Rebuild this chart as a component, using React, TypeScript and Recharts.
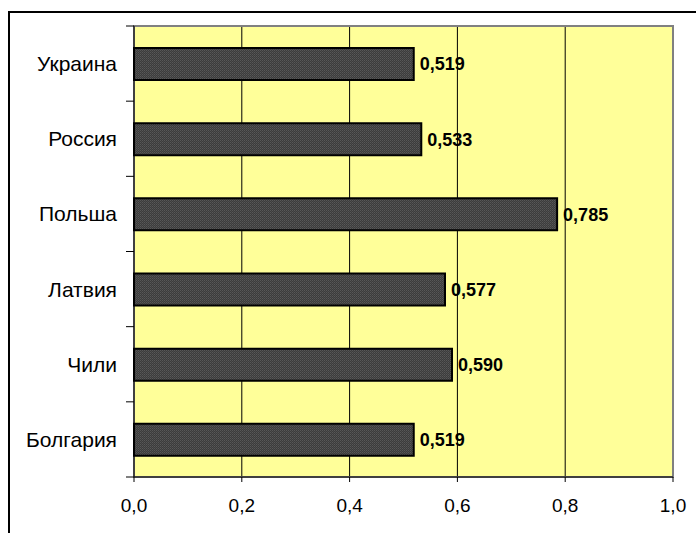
import React from 'react';
import { BarChart, Bar, XAxis, YAxis, CartesianGrid, LabelList, ReferenceArea } from 'recharts';

const countries = ['Украина', 'Россия', 'Польша', 'Латвия', 'Чили', 'Болгария'];
const values = [0.519, 0.533, 0.785, 0.577, 0.59, 0.519];
const xTicks = [0, 0.2, 0.4, 0.6, 0.8, 1.0];

const data = countries.map((name, i) => ({ name, value: values[i] }));

const FONT = '"Liberation Sans", Arial, sans-serif';
const fmtTick = (v: number) => v.toFixed(1).replace('.', ',');
const fmtLabel = (v: any) => Number(v).toFixed(3).replace('.', ',');

const TICK_MARGIN = 9;
const TICK_LEN = 8;

const YTick = (props: any) => {
  const { x, y, payload, index, visibleTicksCount } = props;
  const half = payload && payload.offset ? payload.offset : 0;
  const x1 = x + TICK_MARGIN;
  const x2 = x1 + TICK_LEN;
  const count = visibleTicksCount ?? countries.length;
  return (
    <g>
      <line x1={x1} x2={x2} y1={y - half} y2={y - half} stroke="#000" strokeWidth={1} />
      {index === count - 1 && (
        <line x1={x1} x2={x2} y1={y + half} y2={y + half} stroke="#000" strokeWidth={1} />
      )}
      <text x={x} y={y} dy="0.355em" textAnchor="end" fill="#000" fontSize={21} fontFamily={FONT}>
        {payload.value}
      </text>
    </g>
  );
};

export default function App() {
  return (
    <div style={{ position: 'absolute', left: 0, top: 0, width: 696, height: 533, background: '#fff', overflow: 'hidden' }}>
      <div style={{ position: 'absolute', left: 8, top: 11, width: 800, height: 600, borderLeft: '2px solid #000', borderTop: '2px solid #000', boxSizing: 'border-box' }} />
      <div style={{ position: 'absolute', left: 0, top: 0 }}>
        <BarChart
          width={696}
          height={533}
          data={data}
          layout="vertical"
          margin={{ top: 26, right: 23, bottom: 26, left: 0 }}
          barCategoryGap={0}
        >
          <defs>
            <pattern id="barPat" width="2" height="2" patternUnits="userSpaceOnUse">
              <rect width="2" height="2" fill="#3c3c3c" />
              <rect width="1" height="1" fill="#585858" />
              <rect x="1" y="1" width="1" height="1" fill="#4c4c4c" />
            </pattern>
          </defs>
          <CartesianGrid
            horizontal={false}
            vertical={true}
            stroke="#000"
            strokeWidth={1}
            fill="#FFFF99"
            fillOpacity={1}
          />
          <ReferenceArea x1={0} x2={1} fill="none" stroke="#808080" strokeWidth={2} ifOverflow="visible" />
          <XAxis
            type="number"
            domain={[0, 1]}
            ticks={xTicks}
            tickFormatter={fmtTick}
            height={30}
            tickSize={5}
            tickMargin={17}
            axisLine={{ stroke: '#000', strokeWidth: 1 }}
            tickLine={{ stroke: '#000' }}
            tick={{ fill: '#000', fontSize: 19, fontFamily: FONT }}
            interval={0}
          />
          <YAxis
            type="category"
            dataKey="name"
            width={134}
            tickLine={false}
            tickSize={8}
            tickMargin={TICK_MARGIN}
            axisLine={{ stroke: '#000', strokeWidth: 1 }}
            tick={<YTick />}
            interval={0}
          />
          <Bar dataKey="value" fill="url(#barPat)" stroke="#000" strokeWidth={2} barSize={32} isAnimationActive={false}>
            <LabelList
              dataKey="value"
              position="right"
              offset={6}
              formatter={fmtLabel}
              style={{ fontWeight: 'bold', fontSize: 18, fontFamily: FONT, fill: '#000' }}
            />
          </Bar>
        </BarChart>
      </div>
    </div>
  );
}
